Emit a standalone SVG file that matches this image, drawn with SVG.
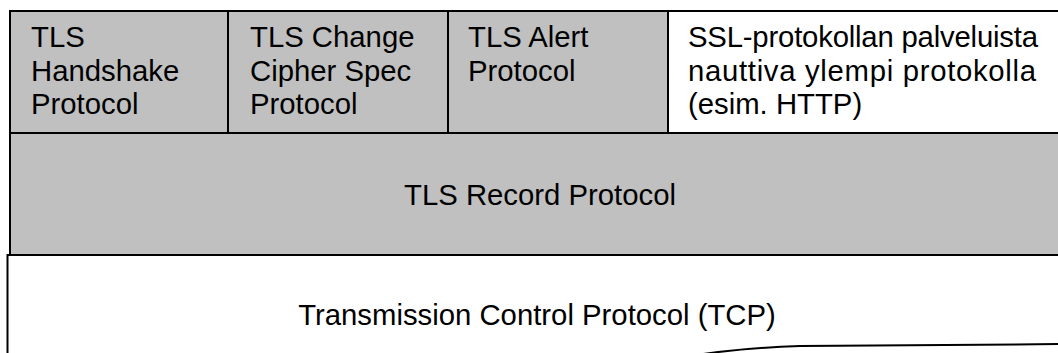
<svg xmlns="http://www.w3.org/2000/svg" width="1058" height="353" viewBox="0 0 1058 353">
<style>
.box{stroke:#000;stroke-width:2}
.gray{fill:#c0c0c0}
.white{fill:#fff}
text{font-family:"Liberation Sans",Arial,sans-serif;font-size:29.3px;fill:#000}
</style>
<rect x="0" y="0" width="1058" height="353" fill="#fff"/>
<g id="handshake">
<rect class="box gray" x="10" y="11" width="218" height="122"/>
<text x="31" y="47">TLS</text>
<text x="31" y="80.5">Handshake</text>
<text x="31" y="114">Protocol</text>
</g>
<g id="ccs">
<rect class="box gray" x="228" y="11" width="220" height="122"/>
<text x="250" y="47">TLS Change</text>
<text x="250" y="80.5">Cipher Spec</text>
<text x="250" y="114">Protocol</text>
</g>
<g id="alert">
<rect class="box gray" x="448" y="11" width="220" height="122"/>
<text x="468" y="47">TLS Alert</text>
<text x="468" y="80.5">Protocol</text>
</g>
<g id="upper">
<rect class="box white" x="668" y="11" width="420" height="122"/>
<text x="688" y="47" textLength="350" lengthAdjust="spacing">SSL-protokollan palveluista</text>
<text x="688" y="80.5" textLength="348" lengthAdjust="spacing">nauttiva ylempi protokolla</text>
<text x="688" y="114">(esim. HTTP)</text>
</g>
<g id="record">
<rect class="box gray" x="10" y="133" width="1080" height="122"/>
<text x="540" y="205" text-anchor="middle">TLS Record Protocol</text>
</g>
<g id="tcp">
<path class="box white" d="M7.5 360 V255 H1070 V344 L800 346 Q740 348 690 356 Z"/>
<text x="537" y="325" text-anchor="middle">Transmission Control Protocol (TCP)</text>
</g>
<g id="connectors"></g>
</svg>
